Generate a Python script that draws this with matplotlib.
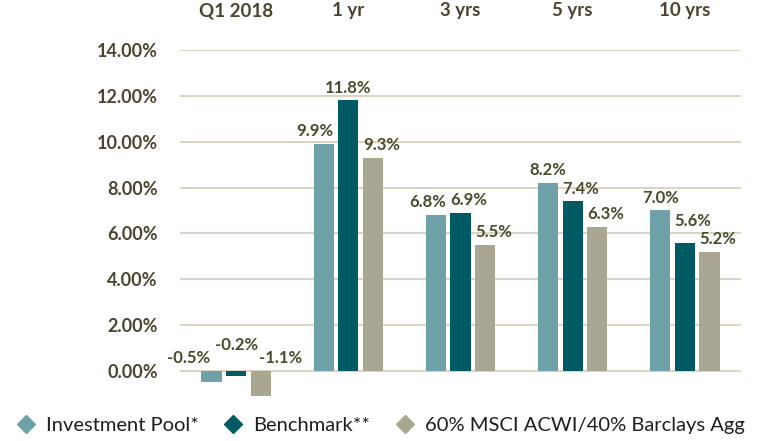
#!/usr/bin/env python3

import numpy as np
from matplotlib import pyplot as plt
from matplotlib.lines import Line2D

periods = ['Q1 2018', '1 yr', '3 yrs', '5 yrs', '10 yrs']
series_names = ['Investment Pool*', 'Benchmark**', '60% MSCI ACWI/40% Barclays Agg']
pool = [-0.5, 9.9, 6.8, 8.2, 7.0]
benchmark = [-0.2, 11.8, 6.9, 7.4, 5.6]
mix = [-1.1, 9.3, 5.5, 6.3, 5.2]
yticks = [0, 2, 4, 6, 8, 10, 12, 14]

colors = ['#6fa1a8', '#005a64', '#a9a691']
text_col = '#4b4430'
label_col = '#4a4a2c'
grid_col = '#d6cbb4'

plt.rcParams['font.family'] = ['Lato', 'DejaVu Sans']

fig = plt.figure(figsize=(7.59, 4.41), dpi=100)
ax = fig.add_axes([180 / 759, 0.0912, 561 / 759, 0.8866 - 0.0912])

x = np.arange(len(periods))
offset = 0.22
width = 0.18

# how each series' labels sit on their bars, like the original
series_align = ['right', 'left', 'left']
# exceptions: (period, series) -> (ha, x shift, y shift in %)
special = {(0, 0): ('center', -0.2, 0.0), (0, 1): ('center', 0.0, 0.6),
           (0, 2): ('center', 0.18, 0.0), (1, 1): ('center', 0.0, 0.0),
           (3, 0): ('center', 0.0, 0.0), (4, 0): ('center', 0.0, 0.0),
           (4, 1): ('left', -0.09, 0.4)}

for i, vals in enumerate([pool, benchmark, mix]):
    xs = x + (i - 1) * offset
    ax.bar(xs, vals, width=width, color=colors[i], zorder=3)
    for j, (xx, v) in enumerate(zip(xs, vals)):
        if (j, i) in special:
            ha, dx, dy = special[(j, i)]
            tx = xx + dx
        else:
            ha, dy = series_align[i], 0.0
            tx = xx + width / 2 if ha == 'right' else xx - width / 2
        ax.text(tx, max(v, 0) + 0.2 + dy, '%.1f%%' % v, ha=ha, va='bottom',
                fontsize=12, fontweight='bold', color=label_col)

ax.set_xlim(-0.5, 4.5)
ax.set_ylim(-1.3, 14.0)
ax.set_yticks(yticks)
ax.set_yticklabels(['%.2f%%' % t for t in yticks])
ax.yaxis.grid(True, color=grid_col, linewidth=1.2, zorder=0)
ax.set_axisbelow(True)
for s in ax.spines.values():
    s.set_visible(False)
ax.tick_params(axis='y', length=0, pad=16, labelsize=13, labelcolor=text_col)
for t in ax.get_yticklabels():
    t.set_fontweight('bold')

ax.set_xticks(x)
ax.set_xticklabels(periods, fontweight='bold')
ax.xaxis.tick_top()
ax.tick_params(axis='x', length=0, pad=22, labelsize=13.5, labelcolor=text_col)

handles = [Line2D([], [], marker='D', linestyle='none', markersize=9, color=c) for c in colors]
fig.legend(handles, series_names, loc='center', bbox_to_anchor=(0.5, 0.036), ncol=3,
           frameon=False, fontsize=14.5, handletextpad=0.4, columnspacing=1.1,
           handlelength=1.2, labelcolor='#1e1e1e')

fig.savefig('out.png', dpi=100)
